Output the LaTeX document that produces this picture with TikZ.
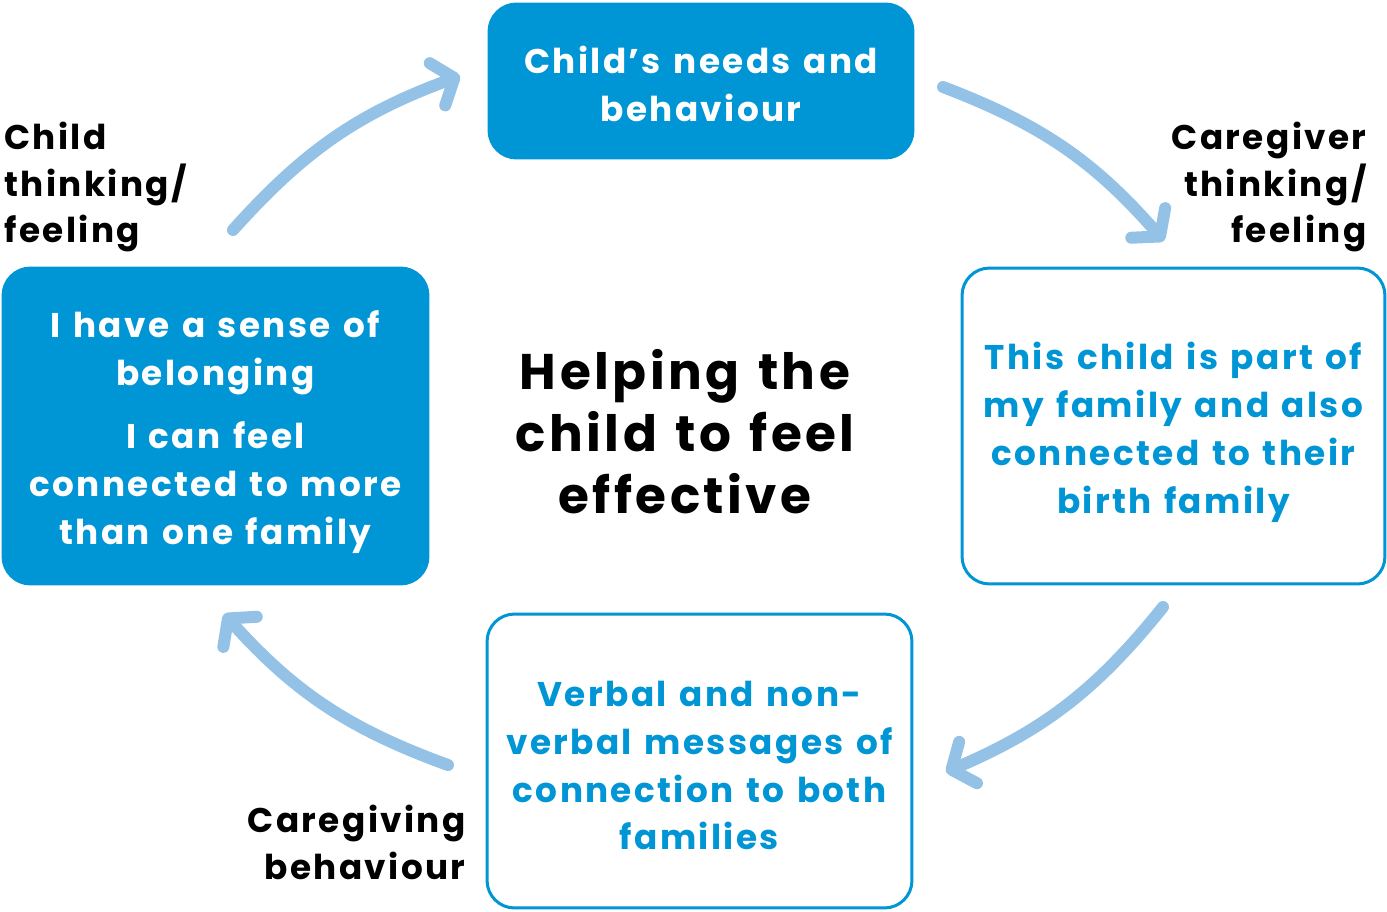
\documentclass[tikz,border=0pt]{standalone}
\usepackage{fontspec}
\setmainfont{Poppins}[LetterSpace=7,WordSpace=1.3]
\usetikzlibrary{arrows.meta}
\definecolor{boxblue}{HTML}{0095D4}
\definecolor{arrowblue}{HTML}{94C2E6}

\tikzset{
  fullbox/.style={draw=boxblue, fill=boxblue, rounded corners=0.55cm, line width=0.06cm},
  linebox/.style={draw=boxblue, fill=white, rounded corners=0.55cm, line width=0.06cm},
  boxtext/.style={align=center, inner sep=0pt, font=\fontsize{19.5}{27.3}\selectfont\bfseries},
  steplabel/.style={text=black, inner sep=0pt, font=\fontsize{19.5}{26.7}\selectfont\bfseries},
  cyclearrow/.style={draw=arrowblue, line width=0.24cm, line cap=round,
    -{Straight Barb[round,length=0.36cm,width=0.9cm]}}
}

\begin{document}
\begin{tikzpicture}[x=0.02cm, y=-0.02cm]
  \useasboundingbox (0,0) rectangle (1387,912);

  % boxes
  \node[fullbox, minimum width=8.48cm, minimum height=3.08cm] (needs) at (701,81) {};
  \node[fullbox, minimum width=8.5cm, minimum height=6.32cm] (belong) at (215.5,426) {};
  \node[linebox, minimum width=8.46cm, minimum height=6.32cm] (partof) at (1173.5,426) {};
  \node[linebox, minimum width=8.5cm, minimum height=5.88cm] (messages) at (699.5,761) {};

  \node[boxtext, text=white] (needstxt) at ([yshift=-0.06cm]needs.center)
    {Child’s needs and\\behaviour};
  \node[boxtext, text=white] (belongtxt) at ([yshift=-0.12cm]belong.center)
    {I have a sense of\\belonging\\[0.3cm]I can feel\\connected to more\\than one family};
  \node[boxtext, text=boxblue] (partoftxt) at ([yshift=-0.12cm]partof.center)
    {This child is part of\\my family and also\\connected to their\\birth family};
  \node[boxtext, text=boxblue] (messagestxt) at ([yshift=-0.09cm]messages.center)
    {Verbal and non-\\verbal messages of\\connection to both\\families};

  % centre title
  \node[align=center, font=\fontsize{28.5}{35.3}\selectfont\bfseries] (title) at (685,432)
    {Helping the\\child to feel\\effective};

  % labels
  \node[steplabel, anchor=west, align=left] (childlbl) at (4,187) {Child\\thinking/\\feeling};
  \node[steplabel, anchor=east, align=right] (carerlbl) at (1367,187) {Caregiver\\thinking/\\feeling};
  \node[steplabel, anchor=east, align=right] (carelbl) at (466,842) {Caregiving\\behaviour};

  % arrows
  \coordinate (a1s) at (233,230);  \coordinate (a1e) at (460,76);
  \coordinate (a2s) at (943,87);   \coordinate (a2e) at (1164,241);
  \coordinate (a3s) at (1163,607); \coordinate (a3e) at (946,772);
  \coordinate (a4s) at (448,765);  \coordinate (a4e) at (224,614);
  \draw[cyclearrow] (a1s) to[bend left=14] (a1e);
  \draw[cyclearrow] (a2s) to[bend left=14] (a2e);
  \draw[cyclearrow] (a3s) to[bend left=14] (a3e);
  \draw[cyclearrow] (a4s) to[bend left=14] (a4e);
\end{tikzpicture}
\end{document}
